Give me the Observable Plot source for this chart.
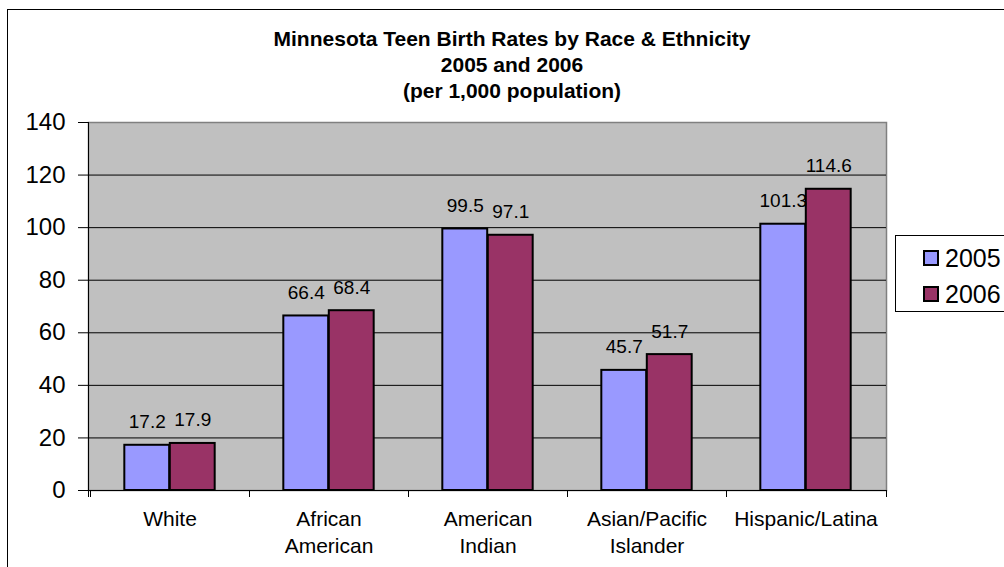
<!DOCTYPE html>
<html><head><meta charset="utf-8">
<script src="https://cdn.jsdelivr.net/npm/d3@7"></script>
<script src="https://cdn.jsdelivr.net/npm/@observablehq/plot@0.6"></script>
<style>
body{margin:0;background:#fff;font-family:"Liberation Sans",Arial,sans-serif;overflow:hidden;width:1004px;height:567px;position:relative}
#frame{position:absolute;left:7px;top:9px;width:1100px;height:700px;border:1px solid #000;box-sizing:border-box}
#title{position:absolute;left:12px;width:1000px;top:26px;text-align:center;font-weight:bold;font-size:21px;line-height:26px;color:#000;z-index:2}
#chart{position:absolute;left:0;top:95px}
#legend{position:absolute;left:895px;top:235px;width:130px;height:77px;border:1px solid #000;box-sizing:border-box;background:#fff}
.row{position:absolute;left:27px;height:28px;display:flex;align-items:center;font-size:25px;color:#000}
.sw{width:12px;height:12px;border:2px solid #000;margin-right:6px}
</style></head><body>
<div id="frame"></div>
<div id="chart"></div>
<div id="title"></div>
<div id="legend"></div>
<script>
const titleLines = ["Minnesota Teen Birth Rates by Race & Ethnicity", "2005 and 2006", "(per 1,000 population)"];
const categories = ["White", "African American", "American Indian", "Asian/Pacific Islander", "Hispanic/Latina"];
const categoryLabels = ["White", "African\nAmerican", "American\nIndian", "Asian/Pacific\nIslander", "Hispanic/Latina"];
const years = ["2005", "2006"];
const rates2005 = [17.2, 66.4, 99.5, 45.7, 101.3];
const rates2006 = [17.9, 68.4, 97.1, 51.7, 114.6];
const yTicks = [0, 20, 40, 60, 80, 100, 120, 140];
const colors = ["#9999FF", "#993366"];

document.getElementById("title").innerHTML = titleLines.map(t => t.replace(/&/g, "&amp;")).join("<br>");

const series = [rates2005, rates2006];
const rows = years.map((yr, s) => categories.map((c, i) => ({year: yr, s, category: c, rate: series[s][i]})));

const W = 900, H = 472, ML = 88, MR = 14, MT = 27, MB = 77;
const band = (W - ML - MR) / categories.length;
const barW = band * 0.285;
const outer = band / 2 - barW;

function frameLines(index, scales, values, dims) {
  const g = d3.create("svg:g").attr("stroke", "#000").attr("stroke-width", 1);
  const x0 = dims.marginLeft, x1 = dims.width - dims.marginRight;
  const yb = dims.height - dims.marginBottom, yt = dims.marginTop;
  g.append("line").attr("x1", x0 + 0.5).attr("x2", x0 + 0.5).attr("y1", yt).attr("y2", yb + 7);
  g.append("line").attr("x1", x0 - 10).attr("x2", x1).attr("y1", yb + 0.5).attr("y2", yb + 0.5);
  const bounds = categories.map(c => scales.x(c)).concat([x1]);
  bounds.forEach(b => g.append("line").attr("x1", Math.round(b) + 0.5).attr("x2", Math.round(b) + 0.5).attr("y1", yb).attr("y2", yb + 7));
  return g.node();
}

const chart = Plot.plot({
  width: W, height: H,
  marginLeft: ML, marginRight: MR, marginTop: MT, marginBottom: MB,
  style: {fontFamily: '"Liberation Sans", Arial, sans-serif', color: "#000", background: "transparent"},
  x: {type: "band", domain: categories, padding: 0},
  y: {domain: [0, 140]},
  marks: [
    Plot.frame({fill: "#C0C0C0", stroke: "#808080", strokeWidth: 1.5}),
    Plot.gridY(yTicks.filter(t => t > 0 && t < 140), {stroke: "#000", strokeOpacity: 1, strokeWidth: 1}),
    ...rows.map((r, s) => Plot.barY(r, {
      x: "category", y: "rate", fill: colors[s], stroke: "#000", strokeWidth: 2,
      insetLeft: s === 0 ? outer : outer + barW,
      insetRight: s === 0 ? outer + barW : outer
    })),
    ...rows.map((r, s) => Plot.text(r, {
      x: "category", y: "rate", text: d => d.rate.toFixed(1),
      dx: s === 0 ? -barW / 2 : barW / 2, dy: -17, lineAnchor: "bottom",
      fontSize: 19, fill: "#000"
    })),
    frameLines,
    Plot.axisY({ticks: yTicks, tickSize: 10, tickPadding: 13, fontSize: 24, label: null, stroke: "#000"}),
    Plot.axisX({tickSize: 0, tickPadding: 16, fontSize: 21, lineHeight: 1.3, label: null,
      tickFormat: c => categoryLabels[categories.indexOf(c)]})
  ]
});
document.getElementById("chart").appendChild(chart);

const legend = document.getElementById("legend");
years.forEach((yr, s) => {
  const row = document.createElement("div");
  row.className = "row";
  row.style.top = (8 + s * 36) + "px";
  row.innerHTML = `<div class="sw" style="background:${colors[s]}"></div><span>${yr}</span>`;
  legend.appendChild(row);
});
</script>
</body></html>
